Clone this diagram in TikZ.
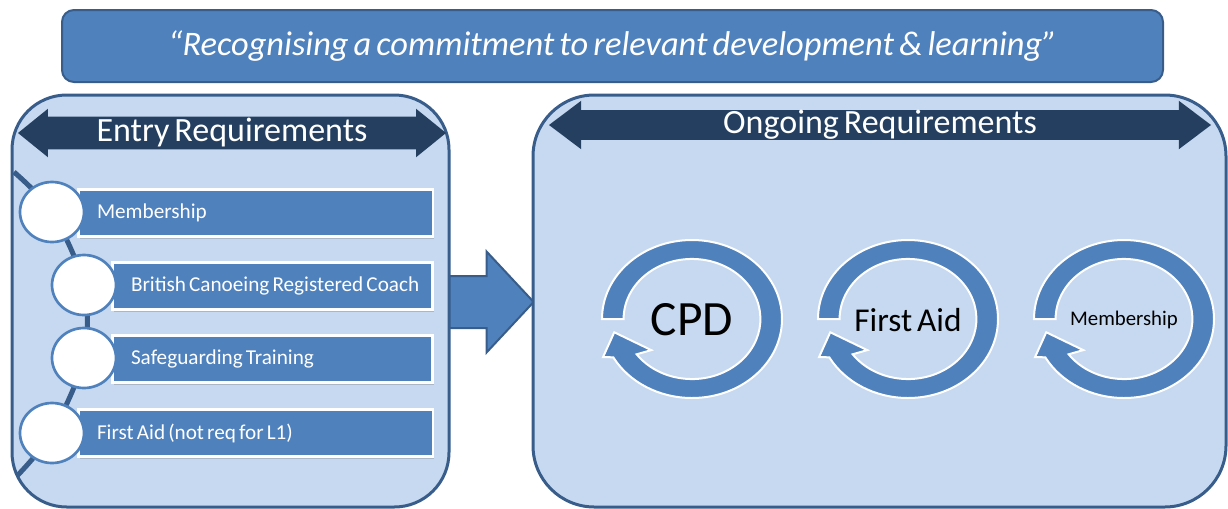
\documentclass[tikz,border=0pt]{standalone}
\usepackage{fontspec}
\setmainfont[WordSpace=0.65]{Carlito}
\usetikzlibrary{shapes.geometric, shapes.arrows, shadows, positioning}
\definecolor{boxblue}{RGB}{79,129,189}
\definecolor{paneblue}{RGB}{198,217,241}
\definecolor{edgeblue}{RGB}{56,93,138}
\definecolor{barnavy}{RGB}{36,63,96}

\begin{document}
\begin{tikzpicture}[x=0.75pt, y=-0.75pt,
    panel/.style={rectangle, draw=edgeblue, fill=paneblue, line width=2.25pt},
    bar/.style={double arrow, fill=barnavy, inner xsep=0pt, inner ysep=12pt,
        double arrow head extend=6pt, double arrow tip angle=78},
    bartext/.style={text=white, font=\fontsize{25.5}{25.5}\selectfont},
    entrybox/.style={rectangle, fill=boxblue, draw=white, line width=2pt, anchor=west,
        minimum height=35.5pt, inner xsep=14pt, text=white,
        font=\fontsize{15.9}{17}\selectfont,
        drop shadow={shadow xshift=1pt, shadow yshift=-1.5pt, opacity=.3, fill=black!60}},
    reqdot/.style={ellipse, fill=white, draw=boxblue, line width=2pt,
        minimum width=48pt, minimum height=45pt},
    spine/.style={draw=edgeblue, line width=3.75pt},
    ring/.style={fill=boxblue, draw=white, line width=1.5pt}
]
\useasboundingbox (0,0) rectangle (1228,508);

\node[single arrow, fill=boxblue, draw=edgeblue, line width=1.5pt, inner xsep=0pt, inner ysep=18.75pt,
    minimum height=78.75pt, single arrow head extend=18.4pt,
    single arrow tip angle=94, anchor=tip] (flow) at (535,302) {};

\node[rectangle, rounded corners=9pt, fill=boxblue, draw=edgeblue, line width=1.5pt,
    minimum width=825.75pt, minimum height=54pt, text=white,
    font=\fontsize{25.8}{25.8}\selectfont\itshape] (motto) at (612.5,46)
    {“Recognising a commitment to relevant development \& learning”};

\node[panel, rounded corners=41pt, minimum width=327.75pt, minimum height=309pt] (entrypanel) at (230.5,301) {};
\node[panel, rounded corners=46pt, minimum width=519.75pt, minimum height=309pt] (ongoingpanel) at (879.5,301) {};

\node[bar, minimum height=321pt] (entrybar) at (232,133) {};
\node[bartext] (entrylabel) at (entrybar) {Entry Requirements};
\node[bar, minimum height=496.5pt, inner ysep=11pt, double arrow head extend=7pt,
    double arrow tip angle=74] (ongoingbar) at (880,125) {};
\node[bartext] (ongoinglabel) at (ongoingbar) {Ongoing Requirements};

\coordinate (s0) at (14,172);
\coordinate (p1) at (52,212);
\coordinate (p2) at (84,285);
\coordinate (p3) at (84,358);
\coordinate (p4) at (52,433);
\coordinate (s5) at (17,476);
\draw[spine] plot[smooth] coordinates {(s0) (p1) (p2) (p3) (p4) (s5)};

\node[entrybox] (memb) at (77,213) {\makebox[238pt][l]{Membership}};
\node[entrybox] (coach) at (111,286) {\makebox[212pt][l]{British Canoeing Registered Coach}};
\node[entrybox] (safe) at (111,359) {\makebox[212pt][l]{Safeguarding Training}};
\node[entrybox] (aid) at (77,433) {\makebox[238pt][l]{First Aid (not req for L1)}};

\node[reqdot] (c1) at (p1) {};
\node[reqdot] (c2) at (p2) {};
\node[reqdot] (c3) at (p3) {};
\node[reqdot] (c4) at (p4) {};

\foreach \cx/\name/\txt/\sz in {692/cpd/CPD/37, 908/firstaid/First Aid/25, 1124/member/Membership/15.6}{
  \begin{scope}[shift={(\cx,319)}, x=67.5pt, y=59.25pt]
    \path[ring] (180:1) arc[start angle=180, end angle=-151, radius=1]
      -- (-154:1.1) -- (-169:0.88) -- (-139:0.6) -- (-144:0.76)
      arc[start angle=-144, end angle=180, radius=0.76] -- cycle;
  \end{scope}
  \node[font=\fontsize{\sz}{\sz}\selectfont] (ring\name) at (\cx,320) {\txt};
}
\end{tikzpicture}
\end{document}
